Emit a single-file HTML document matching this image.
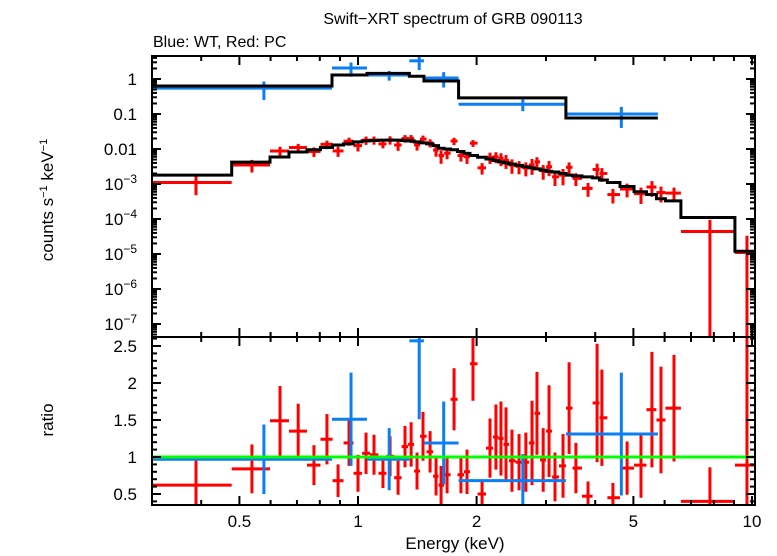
<!DOCTYPE html>
<html><head><meta charset="utf-8"><style>
html,body{margin:0;padding:0;background:#fff;overflow:hidden;width:777px;height:556px}
svg{display:block;font-family:"Liberation Sans",sans-serif}
</style></head><body>
<svg id="chart" width="777" height="556" viewBox="0 0 777 556" xmlns="http://www.w3.org/2000/svg">
<rect width="777" height="556" fill="#fff"/>
<text x="453" y="24" font-size="16" text-anchor="middle">Swift−XRT spectrum of GRB 090113</text>
<text x="153" y="47" font-size="16">Blue: WT, Red: PC</text>
<text x="455" y="549" font-size="17" text-anchor="middle">Energy (keV)</text>
<text transform="translate(53,200) rotate(-90)" font-size="17" text-anchor="middle">counts s<tspan dy="-6" font-size="11">−1</tspan><tspan dy="6"> keV</tspan><tspan dy="-6" font-size="11">−1</tspan></text>
<text transform="translate(53,420) rotate(-90)" font-size="17" text-anchor="middle">ratio</text>
<g id="g"></g>
</svg>
<script>
const xTickLabels=["0.5","1","2","5","10"];
const xTickVals=[0.5,1,2,5,10];
const yTopDecades=[0,-1,-2,-3,-4,-5,-6,-7];
const yTopLabels=["1","0.1","0.01","10|−3","10|−4","10|−5","10|−6","10|−7"];
const ratioTicks=[0.5,1,1.5,2,2.5];
const ratioLabels=["0.5","1","1.5","2","2.5"];

const blueLo=[0.298,0.859,1.054,1.35,1.47,1.80,3.37];
const blueHi=[0.859,1.054,1.35,1.47,1.80,3.37,5.77];
const blueCenter=[0.577,0.96,1.2,1.43,1.65,2.62,4.66];
const blueRate=[0.55,2.06,1.30,3.3,1.07,0.19,0.10];
const blueRateErr=[0.3,0.9,0.4,1.5,0.5,0.07,0.06];
const blueModel=[0.63,1.3,1.45,1.2,0.88,0.29,0.077];
const blueRatio=[0.97,1.51,0.97,2.57,1.19,0.68,1.31];
const blueRatioErr=[0.47,0.63,0.42,1.06,0.56,0.36,0.83];

const redE=[0.388,0.538,0.634,0.705,0.773,0.834,0.890,0.949,1.0,1.048,1.098,1.157,1.206,1.264,1.316,1.364,1.412,1.462,1.524,1.578,1.625,1.683,1.753,1.825,1.891,1.958,2.065,2.163,2.239,2.306,2.375,2.459,2.563,2.667,2.765,2.846,2.951,3.054,3.162,3.314,3.434,3.573,3.836,4.044,4.159,4.436,4.819,5.227,5.572,5.875,6.339,7.82,9.71];
const redEdges=[0.297,0.478,0.598,0.668,0.742,0.803,0.862,0.919,0.974,1.024,1.073,1.127,1.181,1.235,1.290,1.340,1.388,1.437,1.493,1.551,1.601,1.654,1.718,1.789,1.858,1.924,2.011,2.113,2.201,2.272,2.340,2.417,2.511,2.615,2.716,2.805,2.898,3.002,3.108,3.237,3.373,3.503,3.702,3.939,4.101,4.295,4.623,5.019,5.397,5.721,6.03,6.6,9.05,10.2];
const redRate=[0.0011,0.0035,0.0088,0.011,0.0085,0.0136,0.0088,0.0167,0.0125,0.0179,0.018,0.014,0.0182,0.013,0.020,0.0199,0.013,0.0192,0.015,0.0093,0.0065,0.0076,0.0169,0.0065,0.006,0.0147,0.0029,0.0058,0.006,0.0054,0.0047,0.0035,0.0032,0.0029,0.0035,0.0043,0.0024,0.0031,0.0016,0.0018,0.003,0.00145,0.00075,0.0026,0.002,0.0005,0.00072,0.00053,0.00082,0.00057,0.00055,0.000044,0.000011];
const redModel=[0.0018,0.0042,0.0059,0.0082,0.0095,0.011,0.013,0.014,0.016,0.017,0.0175,0.018,0.018,0.018,0.0175,0.017,0.016,0.015,0.014,0.0125,0.0105,0.010,0.0095,0.0085,0.0075,0.0065,0.0058,0.0052,0.0047,0.0043,0.0040,0.0037,0.0034,0.0031,0.0029,0.0027,0.0025,0.0023,0.0022,0.0020,0.0018,0.0017,0.0016,0.0015,0.0013,0.0011,0.00085,0.0006,0.0005,0.00038,0.00033,0.00011,0.000012];
const redRatio=[0.62,0.84,1.49,1.35,0.89,1.24,0.68,1.19,0.78,1.05,1.03,0.78,1.01,0.72,1.14,1.17,0.81,1.28,1.07,0.74,0.62,0.76,1.78,0.76,0.8,2.26,0.5,1.12,1.27,1.25,1.17,0.95,0.93,0.93,1.19,1.59,0.96,1.35,0.73,0.88,1.66,0.85,0.47,1.73,1.53,0.45,0.85,0.89,1.64,1.5,1.66,0.4,0.89];
const redRatioErr=[0.35,0.33,0.47,0.37,0.27,0.34,0.22,0.31,0.25,0.28,0.27,0.2,0.27,0.23,0.28,0.3,0.25,0.33,0.28,0.26,0.26,0.25,0.42,0.25,0.3,0.5,0.18,0.4,0.44,0.5,0.5,0.42,0.38,0.4,0.57,0.56,0.43,0.62,0.33,0.43,0.62,0.34,0.2,0.8,0.65,0.2,0.36,0.44,0.78,0.72,0.72,0.46,1.8];

const X0=152,X1=755,TOP0=56,TOP1=337,BOT1=505;
const xs=e=>358+394*Math.log10(e);
const yTop=v=>79-35*Math.log10(v);
const yBot=r=>457-74*(r-1);
const cT=y=>Math.max(TOP0,Math.min(TOP1,y));
const cB=y=>Math.max(TOP1,Math.min(BOT1,y));
const NS="http://www.w3.org/2000/svg";
const g=document.getElementById('g');
function el(tag,attrs,parent){const e=document.createElementNS(NS,tag);for(const k in attrs)e.setAttribute(k,attrs[k]);(parent||g).appendChild(e);return e;}
const defs=el('defs',{});
const c1=el('clipPath',{id:'ct'},defs);el('rect',{x:X0,y:TOP0,width:X1-X0,height:TOP1-TOP0},c1);
const c2=el('clipPath',{id:'cb'},defs);el('rect',{x:X0,y:TOP1,width:X1-X0,height:BOT1-TOP1},c2);
const gt=el('g',{'clip-path':'url(#ct)'});


const gb=el('g',{'clip-path':'url(#cb)'});



function line(x1,y1,x2,y2,col,w,parent,name){const l=el('line',{x1,y1,x2,y2,stroke:col,'stroke-width':w},parent);

return l;}

for(let i=0;i<redE.length;i++){
 const x=xs(redE[i]),y=yTop(redRate[i]);
 const err=redRate[i]*redRatioErr[i]/redRatio[i];
 const lo=redRate[i]-err;
 const ylo=lo>0?cT(yTop(lo)):TOP1,yhi=cT(yTop(redRate[i]+err));
 line(xs(redEdges[i]),y,Math.min(X1,xs(redEdges[i+1])),y,'#ff0000',3,gt,'red-data-xerr');
 line(x,yhi,x,ylo,'#ff0000',3,gt,'red-data-yerr');
}
for(let i=0;i<blueRate.length;i++){
 const x=xs(blueCenter[i]),y=yTop(blueRate[i]);
 const lo=blueRate[i]-blueRateErr[i];
 line(xs(blueLo[i]),y,xs(blueHi[i]),y,'#0a7ff5',3,gt,'blue-data-xerr');
 line(x,cT(yTop(blueRate[i]+blueRateErr[i])),x,lo>0?cT(yTop(lo)):TOP1,'#0a7ff5',3,gt,'blue-data-yerr');
}
function stepPath(edges,vals,isLoHi){let d='';for(let i=0;i<vals.length;i++){const xa=xs(isLoHi?edges[0][i]:edges[i]),xb=Math.min(X1,xs(isLoHi?edges[1][i]:edges[i+1])),y=yTop(vals[i]);d+=(i?'L':'M')+xa+','+y+'L'+xb+','+y;}return d;}
const pb=el('path',{d:stepPath([blueLo,blueHi],blueModel,true),fill:'none',stroke:'#000','stroke-width':3},gt);


const pr=el('path',{d:stepPath(redEdges,redModel,false),fill:'none',stroke:'#000','stroke-width':3},gt);



for(let i=0;i<redE.length;i++){
 const x=xs(redE[i]),y=yBot(redRatio[i]);
 line(xs(redEdges[i]),y,Math.min(X1,xs(redEdges[i+1])),y,'#ff0000',3,gb,'red-ratio-xerr');
 line(x,cB(yBot(redRatio[i]+redRatioErr[i])),x,cB(yBot(redRatio[i]-redRatioErr[i])),'#ff0000',3,gb,'red-ratio-yerr');
}
for(let i=0;i<blueRatio.length;i++){
 const x=xs(blueCenter[i]),y=cB(yBot(blueRatio[i]));
 line(xs(blueLo[i]),y,xs(blueHi[i]),y,'#0a7ff5',3,gb,'blue-ratio-xerr');
 line(x,cB(yBot(blueRatio[i]+blueRatioErr[i])),x,cB(yBot(blueRatio[i]-blueRatioErr[i])),'#0a7ff5',3,gb,'blue-ratio-yerr');
}
line(X0,yBot(1),X1,yBot(1),'#00ff00',3,gb,'unity-line');

for(const [ya,yb,n] of [[TOP0,TOP1,'top-frame'],[TOP1,BOT1,'bottom-frame']]){
 const r=el('rect',{x:X0,y:ya,width:X1-X0,height:yb-ya,fill:'none',stroke:'#000','stroke-width':2});
 
 
}
const minorE=[0.3,0.4,0.6,0.7,0.8,0.9,3,4,6,7,8,9];
for(const [ya,yb] of [[TOP0,TOP1],[TOP1,BOT1]]){
 for(const e of xTickVals){const x=xs(e);line(x,ya,x,ya+9,'#000',2,g,'x-major-tick');line(x,yb,x,yb-9,'#000',2,g,'x-major-tick');}
 for(const e of minorE){const x=xs(e);line(x,ya,x,ya+5,'#000',2,g,'x-minor-tick');line(x,yb,x,yb-5,'#000',2,g,'x-minor-tick');}
}
xTickVals.forEach((e,i)=>{const t=el('text',{x:xs(e),y:527,'font-size':17,'text-anchor':'middle'});t.textContent=xTickLabels[i];

});
yTopDecades.forEach((d,i)=>{
 const y=yTop(Math.pow(10,d));
 line(X0,y,X0+9,y,'#000',2,g,'y-major-tick');line(X1,y,X1-9,y,'#000',2,g,'y-major-tick');
 for(let m=2;m<10;m++){const ym=yTop(m*Math.pow(10,d));if(ym>TOP0&&ym<TOP1){line(X0,ym,X0+5,ym,'#000',2,g,'y-minor-tick');line(X1,ym,X1-5,ym,'#000',2,g,'y-minor-tick');}}
 for(let m=2;m<10;m++){const ym=yTop(m*Math.pow(10,d-1));if(d===-7&&ym<TOP1){line(X0,ym,X0+5,ym,'#000',2,g,'y-minor-tick');line(X1,ym,X1-5,ym,'#000',2,g,'y-minor-tick');}}
 const parts=yTopLabels[i].split('|');
 const t=el('text',{x:137,y:y+6,'font-size':17,'text-anchor':'end'});
 
 
 if(parts.length===1)t.textContent=parts[0];
 else{t.textContent=parts[0];const s=el('tspan',{dy:-7,'font-size':12},t);s.textContent=parts[1];}
});
ratioTicks.forEach((r,i)=>{const y=yBot(r);line(X0,y,X0+9,y,'#000',2,g,'ratio-major-tick');line(X1,y,X1-9,y,'#000',2,g,'ratio-major-tick');
 const t=el('text',{x:137,y:y+6,'font-size':17,'text-anchor':'end'});t.textContent=ratioLabels[i];
 
 });
for(let k=4;k<=26;k++){const r=k/10,y=yBot(r);if(y>TOP1&&y<BOT1&&k%5){line(X0,y,X0+5,y,'#000',2,g,'ratio-minor-tick');line(X1,y,X1-5,y,'#000',2,g,'ratio-minor-tick');}}
</script>
</body></html>
